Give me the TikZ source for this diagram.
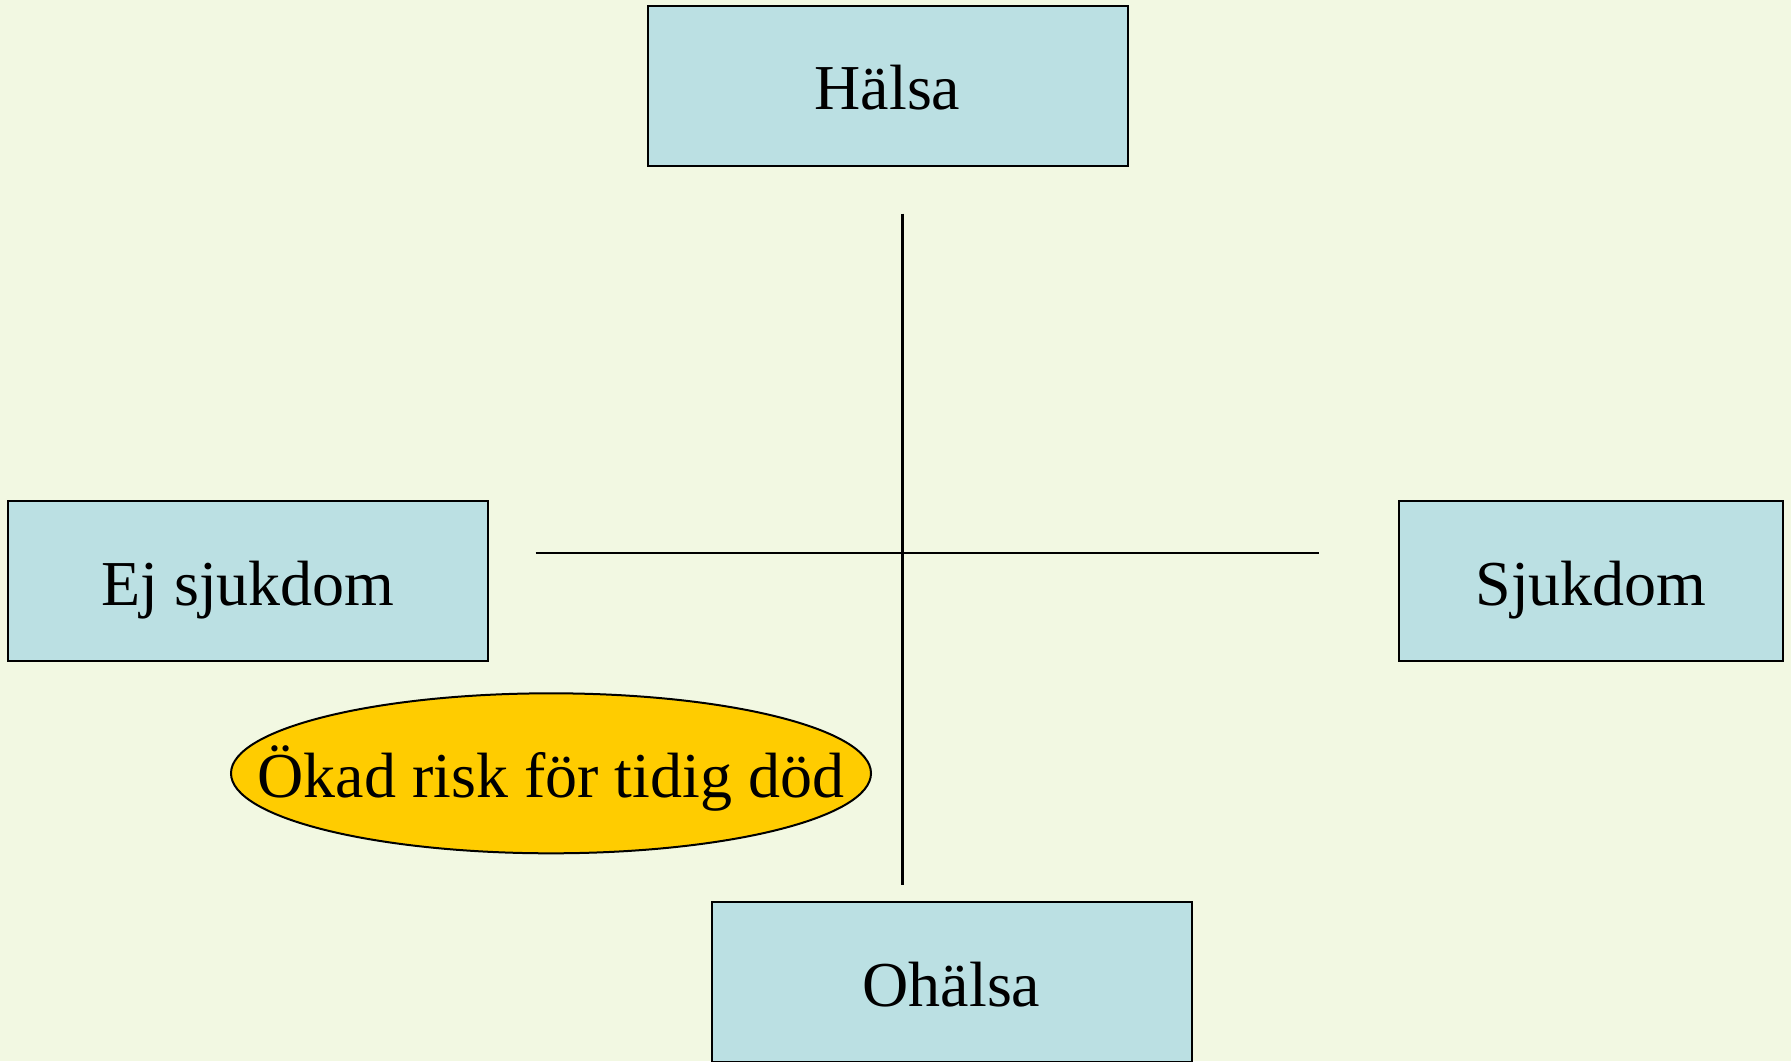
\documentclass[tikz,border=0pt]{standalone}
\usepackage{fontspec}
\setmainfont{Liberation Serif}
\usetikzlibrary{shapes.geometric}
\definecolor{bg}{RGB}{242,248,226}
\definecolor{boxfill}{RGB}{187,224,227}
\definecolor{ellfill}{RGB}{255,204,0}
\tikzset{
  lbl/.style={font=\fontsize{64}{76}\selectfont, text=black, text height=48pt, text depth=0pt},
  box/.style={lbl, rectangle, draw=black, line width=2pt, fill=boxfill, minimum height=160pt, inner sep=0pt},
  oval/.style={lbl, ellipse, draw=black, line width=2pt, fill=ellfill, minimum width=640pt, minimum height=160pt, inner sep=0pt},
  axis/.style={draw=black, line width=2.5pt}
}
\begin{document}
\begin{tikzpicture}[x=1pt,y=-1pt]
\fill[bg] (0,0) rectangle (1791,1061);
\useasboundingbox (0,0) rectangle (1791,1061);
\node[box, minimum width=480pt] (halsa) at (887.5,85.7) {Hälsa};
\node[box, minimum width=480pt] (ej) at (248,581.4) {Ej sjukdom};
\node[box, minimum width=384pt] (sjuk) at (1591,581.4) {Sjukdom};
\node[box, minimum width=480pt] (ohalsa) at (951.5,982) {Ohälsa};
\coordinate (vt) at (902.3,213.6);
\coordinate (vb) at (902.3,885.2);
\coordinate (hl) at (535.7,552.8);
\coordinate (hr) at (1319.2,552.8);
\draw[axis] (vt) -- (vb);
\draw[axis] (hl) -- (hr);
\node[oval] (risk) at (551,773.3) {\makebox[0pt]{Ökad risk för tidig död}};
\end{tikzpicture}
\end{document}
